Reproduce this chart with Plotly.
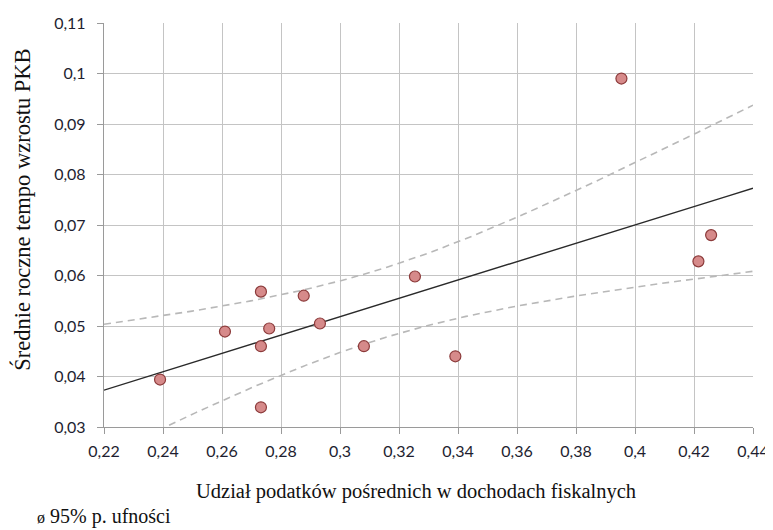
import numpy as np
import plotly.graph_objects as go

# Data
udzial = [0.239, 0.261, 0.2732, 0.2732, 0.2732, 0.276, 0.2877, 0.2932,
          0.3081, 0.3254, 0.3391, 0.3954, 0.4258, 0.4215]
tempo = [0.0394, 0.0489, 0.0568, 0.0460, 0.0339, 0.0495, 0.0560, 0.0505,
         0.0460, 0.0598, 0.0440, 0.0990, 0.0680, 0.0628]

x_ticks = [0.22, 0.24, 0.26, 0.28, 0.30, 0.32, 0.34, 0.36, 0.38, 0.40, 0.42, 0.44]
x_labels = ["0,22", "0,24", "0,26", "0,28", "0,3", "0,32", "0,34", "0,36", "0,38", "0,4", "0,42", "0,44"]
y_ticks = [0.03, 0.04, 0.05, 0.06, 0.07, 0.08, 0.09, 0.10, 0.11]
y_labels = ["0,03", "0,04", "0,05", "0,06", "0,07", "0,08", "0,09", "0,1", "0,11"]

x_title = "Udział podatków pośrednich w dochodach fiskalnych"
y_title = "Średnie roczne tempo wzrostu PKB"
legend_text = "95% p. ufności"

# Regression line and 95% confidence band for the mean
x = np.array(udzial)
y = np.array(tempo)
n = len(x)
b, a = np.polyfit(x, y, 1)
resid = y - (a + b * x)
s = np.sqrt(np.sum(resid ** 2) / (n - 2))
sxx = np.sum((x - x.mean()) ** 2)
t_crit = 2.179  # t(0.975, df=12)
xs = np.linspace(0.22, 0.44, 200)
yhat = a + b * xs
half = t_crit * s * np.sqrt(1 / n + (xs - x.mean()) ** 2 / sxx)

fig = go.Figure()
band_style = dict(color="#b8b8b8", width=1.6, dash="7px,5px")
fig.add_trace(go.Scatter(x=xs, y=yhat + half, mode="lines", line=band_style, hoverinfo="skip"))
fig.add_trace(go.Scatter(x=xs, y=yhat - half, mode="lines", line=band_style, hoverinfo="skip"))
fig.add_trace(go.Scatter(x=xs, y=yhat, mode="lines", line=dict(color="#2a2a2a", width=1.4)))
fig.add_trace(go.Scatter(
    x=udzial, y=tempo, mode="markers",
    marker=dict(size=11, color="#d68a8a", line=dict(color="#8c3b3b", width=1.2)),
))

tick_font = dict(family="Lato, Open Sans, sans-serif", size=16, color="#1e1e30")
serif = "Liberation Serif, Times New Roman, serif"

fig.update_xaxes(
    range=[0.22, 0.44], tickvals=x_ticks, ticktext=x_labels,
    showgrid=True, gridcolor="#c4c4c4", gridwidth=1.3,
    showline=True, linecolor="#9a9a9a", linewidth=1.3,
    ticks="outside", ticklen=6, tickcolor="#9a9a9a", tickwidth=1.3,
    ticklabelstandoff=4,
    tickfont=tick_font, zeroline=False, automargin=False,
)
fig.update_yaxes(
    range=[0.03, 0.11], tickvals=y_ticks, ticktext=y_labels,
    showgrid=True, gridcolor="#c4c4c4", gridwidth=1.3,
    showline=True, linecolor="#9a9a9a", linewidth=1.3,
    ticks="outside", ticklen=6, tickcolor="#9a9a9a", tickwidth=1.3,
    ticklabelstandoff=8,
    tickfont=tick_font, zeroline=False, automargin=False,
)

fig.add_annotation(
    xref="paper", yref="paper", x=0.4807, y=-0.1595, xanchor="center", yanchor="middle",
    text=x_title, showarrow=False, font=dict(family=serif, size=20.5, color="#111"),
)
fig.add_annotation(
    xref="paper", yref="paper", x=-0.1263, y=0.5377, xanchor="center", yanchor="middle",
    text=y_title, textangle=-90, showarrow=False, font=dict(family=serif, size=22.5, color="#111"),
)
fig.add_annotation(
    xref="paper", yref="paper", x=-0.1063, y=-0.222, xanchor="left", yanchor="middle",
    text="<span style='font-size:16px'>ø</span> " + legend_text, showarrow=False,
    font=dict(family=serif, size=20, color="#111"),
)

# the page adds an 8px body margin, so the figure is sized to fit the window
fig.update_layout(
    width=765, height=522,
    margin=dict(l=96, r=20, t=15, b=102.5),
    plot_bgcolor="white", paper_bgcolor="white",
    showlegend=False,
)

fig.write_html("out.html")
